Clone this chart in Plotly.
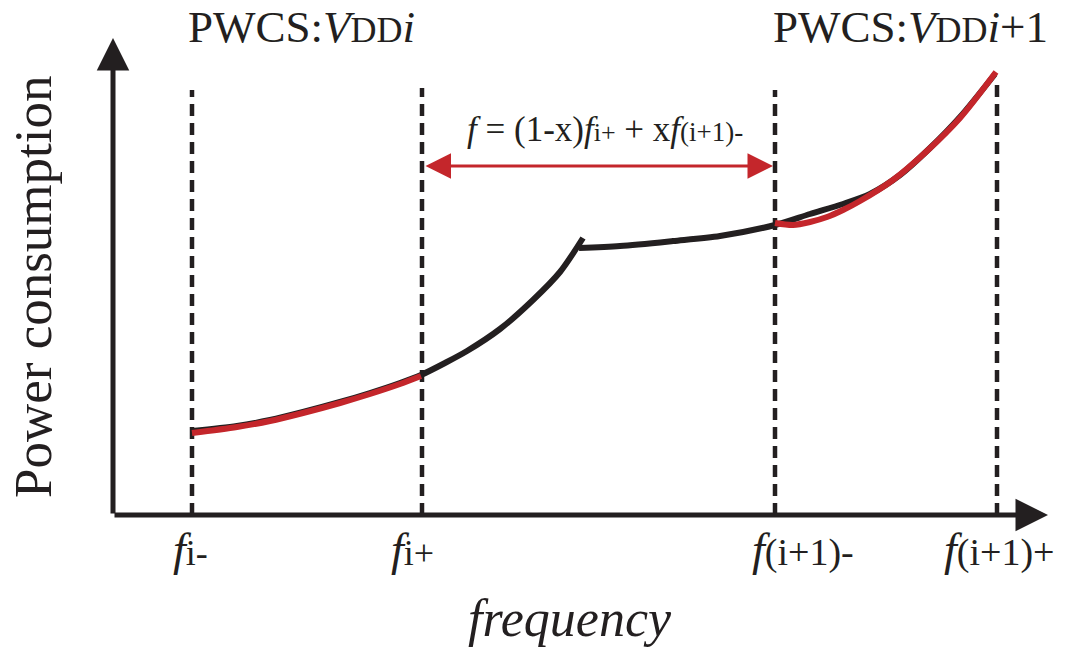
import plotly.graph_objects as go

# Frequency break points (arbitrary units, origin at the axis corner)
f_marks = [0.79, 3.09, 6.62, 8.84]
f_mark_tops = [4.25, 4.27, 4.25, 4.33]
f_labels = [
    "<i>f</i><span style='font-size:36px'>i-</span>",
    "<i>f</i><span style='font-size:36px'>i+</span>",
    "<i>f</i><span style='font-size:38px'>(i+1)-</span>",
    "<i>f</i><span style='font-size:38px'>(i+1)+</span>",
]
f_label_shift = [-2, -10, 28, 2]

# Power curve, lower branch up to the kink
freq_low = [0.79, 1.24, 1.57, 1.90, 2.27, 2.57, 2.87, 3.08, 3.32, 3.54, 3.87, 4.20, 4.47, 4.70]
pow_low = [0.84, 0.89, 0.95, 1.03, 1.13, 1.22, 1.32, 1.40, 1.52, 1.64, 1.86, 2.15, 2.43, 2.77]

# Power curve, upper branch after the kink
freq_high = [4.66, 5.07, 5.60, 6.07, 6.62, 6.97, 7.30, 7.57, 7.87, 8.17, 8.47, 8.82]
pow_high = [2.67, 2.69, 2.74, 2.79, 2.90, 3.01, 3.11, 3.21, 3.40, 3.67, 3.98, 4.41]

# PWCS segments (red)
freq_pwcs1 = [0.79, 1.24, 1.57, 1.90, 2.27, 2.57, 2.87, 3.08]
pow_pwcs1 = [0.82, 0.88, 0.94, 1.02, 1.12, 1.21, 1.31, 1.39]
freq_pwcs2 = [6.62, 6.80, 6.97, 7.14, 7.30, 7.47, 7.80, 8.14, 8.47, 8.83]
pow_pwcs2 = [2.92, 2.90, 2.93, 2.98, 3.05, 3.14, 3.35, 3.64, 3.97, 4.43]

arrow_level = 3.49
x_axis_end = 9.35
y_axis_end = 4.77

BLACK = "#231f20"
RED = "#c4262b"
SERIF = "Liberation Serif, Times New Roman, serif"

fig = go.Figure()

# vertical dashed guides
for fx, top in zip(f_marks, f_mark_tops):
    fig.add_trace(go.Scatter(
        x=[fx, fx], y=[0, top], mode="lines",
        line=dict(color=BLACK, width=4.5, dash="12px,7px"),
        hoverinfo="skip", showlegend=False))

curve_line = dict(width=6, shape="spline", smoothing=0.8)
fig.add_trace(go.Scatter(x=freq_low, y=pow_low, mode="lines",
                         line=dict(color=BLACK, **curve_line), showlegend=False))
fig.add_trace(go.Scatter(x=freq_high, y=pow_high, mode="lines",
                         line=dict(color=BLACK, **curve_line), showlegend=False))
fig.add_trace(go.Scatter(x=freq_pwcs1, y=pow_pwcs1, mode="lines",
                         line=dict(color=RED, **curve_line), showlegend=False))
fig.add_trace(go.Scatter(x=freq_pwcs2, y=pow_pwcs2, mode="lines",
                         line=dict(color=RED, **curve_line), showlegend=False))

annotations = []

# axes drawn as arrows
annotations.append(dict(x=x_axis_end, y=0, ax=0, ay=0, xref="x", yref="y",
                        axref="x", ayref="y", showarrow=True, arrowhead=2,
                        arrowsize=1.3, arrowwidth=5, arrowcolor=BLACK, text=""))
annotations.append(dict(x=0, y=y_axis_end, ax=0, ay=0, xref="x", yref="y",
                        axref="x", ayref="y", showarrow=True, arrowhead=2,
                        arrowsize=1.3, arrowwidth=5, arrowcolor=BLACK, text=""))

# double-headed interval arrow
annotations.append(dict(x=f_marks[2] - 0.02, y=arrow_level, ax=f_marks[1] + 0.02,
                        ay=arrow_level, xref="x", yref="y", axref="x", ayref="y",
                        showarrow=True, arrowhead=2, arrowside="end+start",
                        arrowsize=1.7, arrowwidth=3, arrowcolor=RED, text=""))

annotations.append(dict(
    x=4.92, y=3.86, xref="x", yref="y", showarrow=False,
    text="<i>f</i> = (1-x)<i>f</i><span style='font-size:26px'>i+</span> + "
         "x<i>f</i><span style='font-size:27px'>(i+1)-</span>",
    font=dict(family=SERIF, size=35, color=BLACK)))

# tick labels under the frequency axis
for fx, lab, sh in zip(f_marks, f_labels, f_label_shift):
    annotations.append(dict(x=fx, y=-0.34, xref="x", yref="y", xshift=sh,
                            showarrow=False, text=lab,
                            font=dict(family=SERIF, size=46, color=BLACK)))

annotations.append(dict(x=4.57, y=-1.03, xref="x", yref="y", showarrow=False,
                        text="<i>frequency</i>",
                        font=dict(family=SERIF, size=52, color=BLACK)))
annotations.append(dict(x=-0.80, y=2.28, xref="x", yref="y", showarrow=False,
                        text="Power consumption", textangle=-90,
                        font=dict(family=SERIF, size=53, color=BLACK)))

# supply-level headings, kept inside the top edge
annotations.append(dict(x=f_marks[0] - 0.06, y=1, xref="x", yref="paper",
                        xanchor="left", yanchor="top", showarrow=False,
                        text="PWCS:<i>V</i><span style='font-size:36px'>DD</span><i>i</i>",
                        font=dict(family=SERIF, size=45, color=BLACK)))
annotations.append(dict(x=f_marks[3] + 0.53, y=1, xref="x", yref="paper",
                        xanchor="right", yanchor="top", showarrow=False,
                        text="PWCS:<i>V</i><span style='font-size:36px'>DD</span><i>i</i>+1",
                        font=dict(family=SERIF, size=45, color=BLACK)))

fig.update_layout(
    width=1066, height=648,
    margin=dict(l=0, r=0, t=0, b=0),
    paper_bgcolor="white", plot_bgcolor="white",
    xaxis=dict(range=[-1.13, 9.53], visible=False, fixedrange=True),
    yaxis=dict(range=[-1.33, 5.15], visible=False, fixedrange=True),
    annotations=annotations,
    showlegend=False,
)

fig.write_html("out.html")
